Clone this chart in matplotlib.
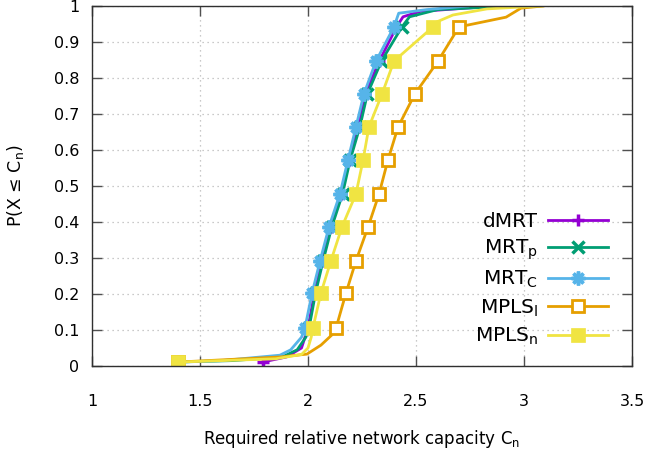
import matplotlib
matplotlib.use("Agg")
import matplotlib.pyplot as plt
from matplotlib.ticker import FixedLocator, FuncFormatter

plt.rcParams['font.family'] = ['DejaVu Sans']
plt.rcParams['mathtext.fontset'] = 'dejavusans'

# ---- data ----
dmrt_x = [1.79, 1.90, 1.97, 2.00, 2.03, 2.065, 2.105, 2.155, 2.19, 2.23, 2.265, 2.33, 2.41, 2.44, 2.52, 2.87]
dmrt_y = [0.011, 0.025, 0.05, 0.106, 0.203, 0.292, 0.386, 0.478, 0.572, 0.664, 0.756, 0.847, 0.942, 0.97, 0.985, 1.0]

mrtp_x = [1.40, 1.65, 1.88, 1.95, 1.99, 2.005, 2.035, 2.07, 2.11, 2.16, 2.195, 2.24, 2.275, 2.34, 2.435, 2.47, 2.60, 2.94]
mrtp_y = [0.011, 0.015, 0.025, 0.045, 0.08, 0.106, 0.203, 0.292, 0.386, 0.478, 0.572, 0.664, 0.756, 0.847, 0.942, 0.97, 0.99, 1.0]

mrtc_x = [1.40, 1.60, 1.87, 1.92, 1.97, 1.986, 2.019, 2.056, 2.097, 2.148, 2.185, 2.222, 2.259, 2.315, 2.398, 2.42, 2.55, 2.74]
mrtc_y = [0.011, 0.015, 0.03, 0.045, 0.08, 0.106, 0.203, 0.292, 0.386, 0.478, 0.572, 0.664, 0.756, 0.847, 0.942, 0.98, 0.99, 1.0]

mplsl_x = [1.40, 1.87, 1.995, 2.06, 2.11, 2.130, 2.176, 2.222, 2.278, 2.329, 2.370, 2.417, 2.495, 2.602, 2.699, 2.917, 2.986, 3.088]
mplsl_y = [0.011, 0.025, 0.033, 0.058, 0.086, 0.106, 0.203, 0.292, 0.386, 0.478, 0.572, 0.664, 0.756, 0.847, 0.942, 0.969, 0.994, 1.0]

mplsn_x = [1.40, 1.85, 1.97, 2.00, 2.015, 2.023, 2.060, 2.106, 2.157, 2.222, 2.255, 2.282, 2.343, 2.398, 2.579, 2.597, 2.671, 2.829, 2.981, 3.083]
mplsn_y = [0.011, 0.02, 0.032, 0.05, 0.08, 0.106, 0.203, 0.292, 0.386, 0.478, 0.572, 0.664, 0.756, 0.847, 0.942, 0.956, 0.975, 0.992, 0.997, 1.0]

labels = ["dMRT", r"MRT$_\mathrm{p}$", r"MRT$_\mathrm{C}$", r"MPLS$_\mathrm{l}$", r"MPLS$_\mathrm{n}$"]
x_ticks = [1, 1.5, 2, 2.5, 3, 3.5]
y_ticks = [0, 0.1, 0.2, 0.3, 0.4, 0.5, 0.6, 0.7, 0.8, 0.9, 1]

# ---- figure ----
fig = plt.figure(figsize=(6.48, 4.59), dpi=100)
ax = fig.add_axes([92/648, 1 - 366/459, 540/648, 360/459])

ax.set_xlim(1, 3.5)
ax.set_ylim(0, 1)
ax.xaxis.set_major_locator(FixedLocator(x_ticks))
ax.yaxis.set_major_locator(FixedLocator(y_ticks))
fmt = FuncFormatter(lambda v, p: ('%g' % v))
ax.xaxis.set_major_formatter(fmt)
ax.yaxis.set_major_formatter(fmt)

ax.grid(True, color='#b8b8b8', linestyle=(0, (1, 3)), linewidth=0.9)
ax.set_axisbelow(True)

lw = 2.0
ax.plot(dmrt_x, dmrt_y, color='#9400d3', lw=lw, marker='+', ms=9, mew=2.5,
        markevery=[0, 3, 4, 5, 6, 7, 8, 9, 10, 11, 12], label=labels[0])
ax.plot(mrtp_x, mrtp_y, color='#009e73', lw=lw, marker='x', ms=8, mew=2.5,
        markevery=[0, 5, 6, 7, 8, 9, 10, 11, 12, 13, 14], label=labels[1])
ax.plot(mrtc_x, mrtc_y, color='#56b4e9', lw=lw, marker=(8, 2, 0), ms=10, mew=2.5,
        markevery=[0, 5, 6, 7, 8, 9, 10, 11, 12, 13, 14], label=labels[2])
ax.plot(mplsl_x, mplsl_y, color='#e69f00', lw=lw, marker='s', ms=8, mew=2.0, mfc='white',
        markevery=[0, 5, 6, 7, 8, 9, 10, 11, 12, 13, 14], label=labels[3])
ax.plot(mplsn_x, mplsn_y, color='#f0e442', lw=lw, marker='s', ms=9.5, mew=0.5,
        markevery=[0, 5, 6, 7, 8, 9, 10, 11, 12, 13, 14], label=labels[4])

for s in ax.spines.values():
    s.set_color('#303030')
    s.set_linewidth(1.0)

ax.tick_params(axis='both', which='major', direction='in', length=7.5, width=1.0,
               color='#505050', top=True, right=True, labelsize=11.5)
ax.tick_params(axis='x', pad=20)
ax.tick_params(axis='y', pad=9)

ax.set_xlabel(r"Required relative network capacity C$_\mathrm{n}$", fontsize=12, labelpad=14)
ax.set_ylabel(r"P(X ≤ C$_\mathrm{n}$)", fontsize=12.5, labelpad=20)

leg = ax.legend(loc='lower right', bbox_to_anchor=(0.97, 0.03), markerfirst=False,
                frameon=False, fontsize=14.5, handlelength=2.95, handletextpad=0.5,
                labelspacing=0.35, borderaxespad=0)

fig.savefig("out.png", dpi=100)
